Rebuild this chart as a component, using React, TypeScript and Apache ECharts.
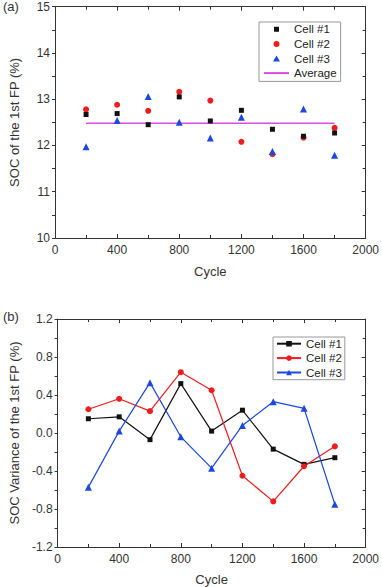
import React, { useEffect, useRef } from "react";
import * as echarts from "echarts";

const cycles = [200, 400, 600, 800, 1000, 1200, 1400, 1600, 1800];
const socCell1 = [12.67, 12.69, 12.45, 13.05, 12.53, 12.76, 12.35, 12.2, 12.27];
const socCell2 = [12.78, 12.88, 12.75, 13.16, 12.97, 12.08, 11.81, 12.17, 12.38];
const socCell3 = [11.97, 12.54, 13.06, 12.5, 12.16, 12.61, 11.87, 12.79, 11.79];
const socAverage = 12.48;
const averageRange = [200, 1800];

const varCell1 = [0.15, 0.17, -0.07, 0.52, 0.02, 0.24, -0.17, -0.33, -0.26];
const varCell2 = [0.25, 0.36, 0.23, 0.64, 0.45, -0.45, -0.72, -0.35, -0.14];
const varCell3 = [-0.57, 0.02, 0.53, -0.04, -0.37, 0.08, 0.33, 0.26, -0.75];

const cellNames = ["Cell #1", "Cell #2", "Cell #3"];
const averageName = "Average";
const xTitle = "Cycle";
const yTitleA = "SOC of the 1st FP (%)";
const yTitleB = "SOC Variance of the 1st FP (%)";

const FONT = "'Liberation Sans', Arial, sans-serif";
const AX = "#333";
const BLACK = "#111111";
const RED = "#ee1c1c";
const BLUE = "#1c48e0";
const MAGENTA = "#dd4ddd";

// legend icons drawn in a 25x6 box so they keep their proportions
const BOX = "M0,0 L0.01,0 L0.01,0.01 Z M25,6 L24.99,6 L24.99,5.99 Z ";
const ICON_RECT = "path://" + BOX + "M10,0.5 L15,0.5 L15,5.5 L10,5.5 Z";
const ICON_TRI = "path://" + BOX + "M12.5,0 L16,6 L9,6 Z";
const ICON_CIRCLE = "path://" + BOX + "M15.5,3 A3,3 0 1 1 9.5,3 A3,3 0 1 1 15.5,3 Z";

const pairs = (ys: number[]) => cycles.map((c, i) => [c, ys[i]]);

function xAxes(grid: number, nameGap: number) {
  const base = {
    gridIndex: grid,
    type: "value",
    min: 0,
    max: 2000,
    interval: 400,
    splitLine: { show: false },
    axisLine: { show: true, onZero: false, lineStyle: { color: AX, width: 1 } },
    axisTick: { show: true, inside: true, length: 4, lineStyle: { color: AX } },
    minorTick: { show: true, splitNumber: 2, length: 3, lineStyle: { color: AX } },
  };
  return [
    {
      ...base,
      position: "bottom",
      name: xTitle,
      nameLocation: "middle",
      nameGap,
      nameTextStyle: { fontFamily: FONT, fontSize: 13, color: "#333" },
      axisLabel: {
        show: true,
        margin: 6,
        fontFamily: FONT,
        fontSize: 12,
        color: "#333",
        formatter: (v: number) => String(Math.round(v)),
      },
    },
    { ...base, position: "top", axisLabel: { show: false } },
  ];
}

function yAxes(grid: number, min: number, max: number, interval: number, name: string, nameGap: number, fmt: (v: number) => string) {
  const base = {
    gridIndex: grid,
    type: "value",
    min,
    max,
    interval,
    splitLine: { show: false },
    axisLine: { show: true, onZero: false, lineStyle: { color: AX, width: 1 } },
    minorTick: { show: true, splitNumber: 2, length: 3, lineStyle: { color: AX } },
  };
  return [
    {
      ...base,
      position: "left",
      name,
      nameLocation: "middle",
      nameGap,
      nameTextStyle: { fontFamily: FONT, fontSize: 13, color: "#333" },
      axisTick: { show: true, inside: false, length: 3, lineStyle: { color: AX } },
      axisLabel: { show: true, margin: 5, fontFamily: FONT, fontSize: 12, color: "#333", formatter: fmt },
    },
    {
      ...base,
      position: "right",
      axisTick: { show: true, inside: true, length: 4, lineStyle: { color: AX } },
      axisLabel: { show: false },
    },
  ];
}

export default function App() {
  const ref = useRef<HTMLDivElement>(null);
  useEffect(() => {
    document.body.style.margin = "0";
    const chart = echarts.init(ref.current!, null, { renderer: "svg" });
    const bNames: Record<string, string> = { b1: cellNames[0], b2: cellNames[1], b3: cellNames[2] };
    chart.setOption({
      animation: false,
      backgroundColor: "#ffffff",
      textStyle: { fontFamily: FONT },
      grid: [
        { left: 50, right: 16, top: 6.7, height: 231.3 },
        { left: 54.3, right: 14.3, top: 319, height: 228.3 },
      ],
      xAxis: [...xAxes(0, 27), ...xAxes(1, 26)],
      yAxis: [
        ...yAxes(0, 10, 15, 1, yTitleA, 34, (v: number) => String(Math.round(v))),
        ...yAxes(1, -1.2, 1.2, 0.4, yTitleB, 36, (v: number) => (Math.abs(v) < 1e-9 ? "0.0" : v.toFixed(1))),
      ],
      legend: [
        {
          orient: "vertical",
          left: 259,
          top: 22,
          padding: [1, 4, 2, 4],
          itemWidth: 25,
          itemHeight: 6,
          itemGap: 2,
          borderColor: "#999",
          borderWidth: 1,
          textStyle: { fontFamily: FONT, fontSize: 11.5, color: "#222", lineHeight: 12.6 },
          data: [
            { name: cellNames[0], icon: ICON_RECT, itemStyle: { opacity: 1 } },
            { name: cellNames[1], icon: ICON_CIRCLE, itemStyle: { opacity: 1 } },
            { name: cellNames[2], icon: ICON_TRI, itemStyle: { opacity: 1 } },
            { name: averageName, itemStyle: { color: "rgba(0,0,0,0)", opacity: 0 } },
          ],
        },
        {
          orient: "vertical",
          left: 273,
          top: 337,
          padding: [0.5, 3, 1, 3],
          itemWidth: 24,
          itemHeight: 7,
          itemGap: 2,
          borderColor: "#999",
          borderWidth: 1,
          textStyle: { fontFamily: FONT, fontSize: 11.5, color: "#222", lineHeight: 12.4 },
          formatter: (n: string) => bNames[n] || n,
          data: ["b1", "b2", "b3"],
        },
      ],
      graphic: [
        { type: "text", left: 3, top: 0, style: { text: "(a)", font: `13px ${FONT}`, fill: "#333" } },
        { type: "text", left: 3, top: 310, style: { text: "(b)", font: `13px ${FONT}`, fill: "#333" } },
      ],
      series: [
        {
          name: averageName,
          type: "line",
          xAxisIndex: 0,
          yAxisIndex: 0,
          symbol: "none",
          lineStyle: { color: MAGENTA, width: 1.5 },
          itemStyle: { color: MAGENTA },
          data: averageRange.map((c) => [c, socAverage]),
          z: 1,
        },
        {
          name: cellNames[0],
          type: "scatter",
          xAxisIndex: 0,
          yAxisIndex: 0,
          symbol: "rect",
          symbolSize: 5,
          itemStyle: { color: BLACK, opacity: 1 },
          data: pairs(socCell1),
          z: 3,
        },
        {
          name: cellNames[1],
          type: "scatter",
          xAxisIndex: 0,
          yAxisIndex: 0,
          symbol: "circle",
          symbolSize: 6,
          itemStyle: { color: RED, opacity: 1 },
          data: pairs(socCell2),
          z: 2,
        },
        {
          name: cellNames[2],
          type: "scatter",
          xAxisIndex: 0,
          yAxisIndex: 0,
          symbol: "triangle",
          symbolSize: 7,
          itemStyle: { color: BLUE, opacity: 1 },
          data: pairs(socCell3),
          z: 2,
        },
        {
          name: "b1",
          type: "line",
          xAxisIndex: 2,
          yAxisIndex: 2,
          symbol: "rect",
          symbolSize: 5,
          lineStyle: { color: BLACK, width: 1.2 },
          itemStyle: { color: BLACK },
          data: pairs(varCell1),
        },
        {
          name: "b2",
          type: "line",
          xAxisIndex: 2,
          yAxisIndex: 2,
          symbol: "circle",
          symbolSize: 6,
          lineStyle: { color: RED, width: 1.2 },
          itemStyle: { color: RED },
          data: pairs(varCell2),
        },
        {
          name: "b3",
          type: "line",
          xAxisIndex: 2,
          yAxisIndex: 2,
          symbol: "triangle",
          symbolSize: 7,
          lineStyle: { color: BLUE, width: 1.2 },
          itemStyle: { color: BLUE },
          data: pairs(varCell3),
        },
      ],
    });
    return () => chart.dispose();
  }, []);
  return <div ref={ref} style={{ position: "absolute", left: 0, top: 0, width: 382, height: 587 }} />;
}
